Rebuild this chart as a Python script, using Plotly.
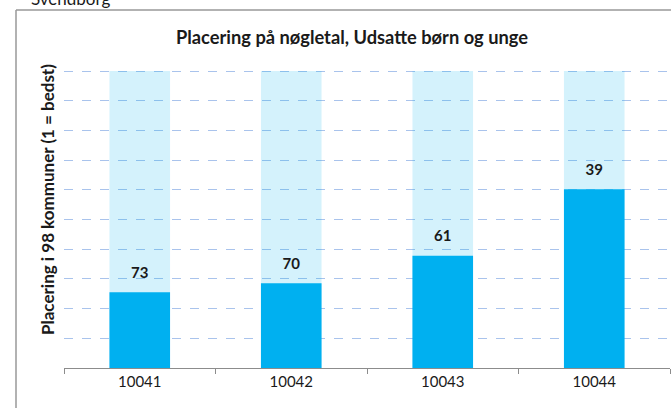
import plotly.graph_objects as go

W, H = 671, 408

categories = ["10041", "10042", "10043", "10044"]
ranks = [73, 70, 61, 39]
n_kommuner = 98

title = "Placering på nøgletal, Udsatte børn og unge"
y_title = "Placering i 98 kommuner (1 = bedst)"
frame_title = "Svendborg"

dark_vals = [n_kommuner - r for r in ranks]
full_vals = [n_kommuner] * len(categories)

def px_x(x):
    return x / W

def px_y(y):
    return 1 - y / H

FONT = "Lato"
y_max = n_kommuner * 1.01
px_per_unit = (368 - 71) / n_kommuner
top_px = 368 - y_max * px_per_unit

fig = go.Figure()
fig.add_trace(go.Bar(x=categories, y=full_vals,
                     marker=dict(color="rgba(0,176,240,0.17)", line=dict(width=0)),
                     width=0.4, hoverinfo="skip", showlegend=False))
fig.add_trace(go.Bar(x=categories, y=dark_vals, marker=dict(color="#00b0f0", line=dict(width=0)),
                     width=0.4, showlegend=False))
fig.add_trace(go.Scatter(x=categories, y=[v + 6.0 for v in dark_vals], mode="text",
                         text=[str(r) for r in ranks],
                         textfont=dict(family=FONT, size=15, color="#1a1a1a", weight="bold"),
                         showlegend=False, hoverinfo="skip"))

fig.update_layout(
    width=W, height=H,
    margin=dict(l=0, r=0, t=0, b=0),
    paper_bgcolor="white", plot_bgcolor="white",
    barmode="overlay", bargap=0.6,
    xaxis=dict(domain=[px_x(64), px_x(670)], showgrid=False,
               showline=True, linecolor="#8c8c8c", linewidth=1,
               ticks="outside", tickson="boundaries", ticklen=5, tickcolor="#8c8c8c",
               tickfont=dict(family=FONT, size=15, color="#1a1a1a"),
               fixedrange=True),
    yaxis=dict(domain=[px_y(368), px_y(top_px)], range=[0, y_max],
               tick0=0, dtick=n_kommuner / 10,
               showgrid=True, gridcolor="#a9c3ec", griddash="dash", gridwidth=1,
               showticklabels=False, zeroline=False, showline=False, ticks="",
               fixedrange=True),
    shapes=[
        dict(type="line", xref="paper", yref="paper", x0=px_x(16), x1=px_x(16),
             y0=px_y(10), y1=0, line=dict(color="#999999", width=1.5)),
        dict(type="line", xref="paper", yref="paper", x0=px_x(16), x1=1,
             y0=px_y(10), y1=px_y(10), line=dict(color="#999999", width=1.5)),
    ],
    annotations=[
        dict(text="<b>" + title + "</b>", xref="paper", yref="paper",
             x=px_x(352), y=px_y(37), xanchor="center", yanchor="middle",
             showarrow=False, font=dict(family=FONT, size=18.3, color="#1a1a1a")),
        dict(text="<b>" + y_title + "</b>", xref="paper", yref="paper",
             x=px_x(47), y=px_y(200), xanchor="center", yanchor="middle", textangle=-90,
             showarrow=False, font=dict(family=FONT, size=17, color="#1a1a1a")),
        dict(text=frame_title, xref="paper", yref="paper",
             x=px_x(29), y=px_y(-2), xanchor="left", yanchor="middle",
             showarrow=False, font=dict(family=FONT, size=17, color="#1a1a1a")),
    ],
)

fig.write_html("out.html", config={"displayModeBar": False},
               post_script="document.body.style.margin='0';")
